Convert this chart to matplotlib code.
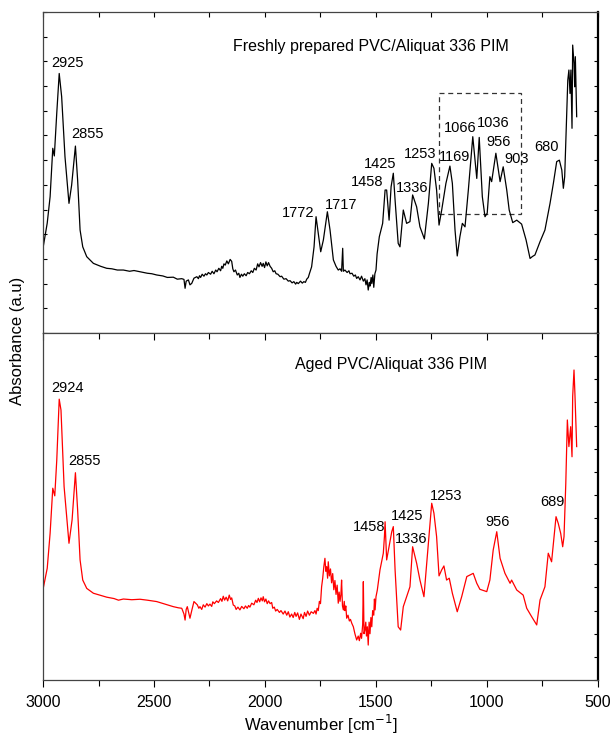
import matplotlib
matplotlib.use("Agg")
import matplotlib.pyplot as plt
from matplotlib.ticker import MultipleLocator, NullFormatter
from matplotlib.patches import Rectangle

plt.rcParams['font.family'] = ['Liberation Sans', 'DejaVu Sans']

# FTIR spectra (wavenumber in cm-1, absorbance in a.u.)
fresh_wn = [2999, 2981, 2968, 2956, 2949, 2938, 2927, 2916, 2901, 2883, 2871, 2854, 2844, 2833,
            2821, 2803, 2773, 2740, 2713, 2690, 2665, 2638, 2610, 2590, 2563, 2530, 2510, 2488,
            2460, 2440, 2413, 2395, 2375, 2365, 2360, 2355, 2345, 2338, 2330, 2320, 2307, 2300,
            2295, 2290, 2283, 2275, 2268, 2262, 2255, 2245, 2238, 2230, 2222, 2216, 2208, 2200,
            2195, 2190, 2185, 2179, 2172, 2165, 2157, 2150, 2145, 2140, 2133, 2125, 2118, 2113,
            2106, 2100, 2093, 2085, 2078, 2070, 2062, 2055, 2048, 2040, 2033, 2027, 2020, 2013,
            2008, 2002, 1996, 1990, 1984, 1977, 1970, 1963, 1956, 1950, 1942, 1932, 1925, 1915,
            1905, 1895, 1887, 1878, 1870, 1862, 1857, 1850, 1840, 1832, 1825, 1818, 1812, 1805,
            1800, 1790, 1779, 1770, 1760, 1749, 1737, 1719, 1707, 1692, 1680, 1670, 1662, 1655,
            1650, 1647, 1640, 1630, 1622, 1617, 1608, 1600, 1593, 1587, 1580, 1572, 1565, 1557,
            1550, 1545, 1540, 1535, 1530, 1527, 1522, 1519, 1514, 1510, 1505, 1500, 1495, 1485,
            1470, 1459, 1452, 1441, 1432, 1422, 1414, 1400, 1392, 1377, 1362, 1347, 1335, 1317,
            1302, 1282, 1264, 1249, 1239, 1227, 1216, 1204, 1185, 1167, 1156, 1144, 1134, 1122,
            1111, 1099, 1084, 1064, 1046, 1035, 1021, 1009, 999, 987, 979, 960, 941, 927,
            911, 900, 884, 866, 844, 824, 806, 795, 784, 761, 739, 716, 701, 686,
            674, 663, 656, 650, 641, 636, 631, 626, 622, 617, 614, 608, 605, 602, 596]
fresh_abs = [3.49, 4.45, 5.52, 7.48, 7.17, 8.91, 10.51, 9.57, 7.14, 5.25, 5.99, 7.57, 6.19, 4.17,
             3.49, 3.09, 2.82, 2.70, 2.62, 2.60, 2.55, 2.55, 2.50, 2.53, 2.48, 2.42, 2.40, 2.35,
             2.31, 2.25, 2.26, 2.18, 2.20, 2.17, 1.81, 2.10, 2.15, 1.95, 2.01, 2.22, 2.28, 2.20,
             2.32, 2.25, 2.38, 2.30, 2.40, 2.35, 2.45, 2.38, 2.50, 2.40, 2.55, 2.48, 2.62, 2.52,
             2.70, 2.62, 2.80, 2.75, 2.92, 2.80, 2.98, 2.90, 2.60, 2.48, 2.55, 2.35, 2.42, 2.25,
             2.38, 2.30, 2.40, 2.32, 2.45, 2.40, 2.52, 2.45, 2.62, 2.55, 2.80, 2.68, 2.85, 2.70,
             2.82, 2.65, 2.88, 2.72, 2.85, 2.70, 2.62, 2.48, 2.52, 2.40, 2.38, 2.28, 2.30, 2.18,
             2.20, 2.10, 2.12, 2.03, 2.08, 1.98, 2.05, 2.00, 2.10, 2.02, 2.08, 2.05, 2.18, 2.25,
             2.40, 2.68, 3.49, 4.71, 4.04, 3.29, 3.77, 4.91, 4.17, 2.96, 2.70, 2.55, 2.60, 2.50,
             3.43, 2.50, 2.55, 2.45, 2.52, 2.40, 2.42, 2.30, 2.35, 2.21, 2.28, 2.15, 2.30, 2.10,
             2.20, 1.95, 2.15, 1.74, 2.05, 1.90, 2.25, 2.00, 2.35, 1.85, 2.40, 2.55, 3.20, 3.90,
             4.44, 5.79, 5.79, 4.57, 5.92, 6.47, 5.38, 3.63, 3.49, 4.98, 4.44, 4.51, 5.59, 5.11,
             4.30, 3.81, 5.25, 6.87, 6.67, 5.79, 4.37, 4.98, 6.06, 6.76, 6.06, 4.17, 3.12, 3.90,
             4.44, 4.30, 5.79, 7.95, 6.26, 7.92, 5.52, 4.71, 4.85, 6.33, 6.13, 7.28, 6.13, 6.73,
             5.79, 4.98, 4.47, 4.57, 4.41, 3.77, 3.02, 3.10, 3.16, 3.70, 4.17, 5.25, 6.06, 6.94,
             7.00, 6.60, 5.86, 6.33, 8.76, 10.24, 10.65, 9.70, 10.65, 8.29, 11.66, 10.92, 9.97, 11.19, 8.76]

aged_wn = [2999, 2981, 2968, 2956, 2947, 2938, 2927, 2919, 2905, 2883, 2869, 2854, 2844, 2833,
           2821, 2803, 2773, 2713, 2680, 2660, 2638, 2600, 2563, 2530, 2510, 2488, 2450, 2413,
           2390, 2375, 2365, 2360, 2355, 2350, 2338, 2330, 2320, 2305, 2298, 2293, 2285, 2278,
           2270, 2262, 2255, 2248, 2240, 2235, 2228, 2218, 2210, 2200, 2194, 2188, 2182, 2175,
           2168, 2161, 2155, 2150, 2143, 2136, 2130, 2122, 2113, 2105, 2095, 2088, 2080, 2074,
           2068, 2060, 2050, 2042, 2036, 2030, 2024, 2018, 2012, 2008, 2002, 1996, 1990, 1984,
           1977, 1970, 1965, 1958, 1952, 1945, 1935, 1928, 1918, 1910, 1902, 1895, 1888, 1880,
           1873, 1866, 1860, 1853, 1845, 1838, 1828, 1822, 1815, 1808, 1800, 1792, 1782, 1775,
           1770, 1765, 1760, 1755, 1750, 1745, 1740, 1735, 1730, 1726, 1722, 1718, 1715, 1710,
           1705, 1700, 1695, 1690, 1685, 1680, 1675, 1670, 1666, 1662, 1658, 1655, 1651, 1647,
           1643, 1640, 1636, 1632, 1626, 1620, 1615, 1609, 1602, 1595, 1587, 1580, 1575, 1569,
           1565, 1560, 1557, 1554, 1550, 1546, 1543, 1539, 1535, 1531, 1527, 1523, 1519, 1515,
           1510, 1507, 1504, 1500, 1494, 1482, 1467, 1462, 1459, 1452, 1440, 1429, 1422, 1414,
           1400, 1389, 1377, 1362, 1347, 1335, 1317, 1302, 1284, 1264, 1249, 1239, 1227, 1216,
           1204, 1194, 1182, 1170, 1156, 1134, 1114, 1091, 1062, 1046, 1032, 1001, 987, 972,
           956, 941, 919, 896, 889, 866, 837, 821, 799, 776, 761, 739, 724, 709,
           689, 679, 668, 659, 653, 645, 638, 631, 623, 617, 614, 608, 604, 596]
aged_abs = [3.96, 4.83, 6.34, 8.29, 7.96, 9.51, 12.14, 11.67, 8.36, 5.91, 6.92, 8.96, 7.35, 5.19,
            4.32, 3.96, 3.75, 3.58, 3.52, 3.45, 3.50, 3.47, 3.49, 3.45, 3.42, 3.39, 3.28, 3.17,
            3.12, 3.10, 2.85, 2.59, 3.05, 3.17, 2.67, 3.00, 3.39, 3.25, 3.10, 3.17, 3.05, 3.25,
            3.15, 3.30, 3.20, 3.28, 3.18, 3.38, 3.30, 3.42, 3.35, 3.52, 3.40, 3.62, 3.45, 3.58,
            3.42, 3.67, 3.48, 3.55, 3.24, 3.20, 3.05, 3.15, 3.03, 3.18, 3.08, 3.20, 3.10, 3.22,
            3.15, 3.32, 3.25, 3.45, 3.35, 3.53, 3.38, 3.55, 3.42, 3.60, 3.38, 3.50, 3.30, 3.42,
            3.30, 3.35, 3.10, 3.15, 2.98, 3.05, 2.92, 3.00, 2.85, 2.98, 2.80, 2.95, 2.72, 2.85,
            2.70, 2.92, 2.75, 2.90, 2.62, 2.85, 2.65, 2.92, 2.75, 2.98, 2.80, 2.95, 2.88, 3.00,
            2.85, 3.10, 3.00, 3.40, 3.30, 4.03, 4.40, 4.90, 5.26, 4.70, 4.90, 4.40, 5.11, 4.50,
            4.80, 4.20, 4.60, 3.90, 4.30, 3.70, 4.10, 3.32, 3.80, 3.40, 3.70, 4.32, 3.20, 3.03,
            3.40, 3.00, 3.20, 2.67, 2.80, 2.55, 2.62, 2.45, 2.30, 2.00, 1.73, 1.90, 1.70, 2.02,
            1.80, 2.40, 4.25, 2.00, 2.16, 2.50, 1.90, 2.30, 1.51, 2.50, 2.00, 2.70, 2.30, 3.00,
            2.80, 3.50, 3.03, 3.60, 3.89, 4.76, 5.48, 6.20, 6.84, 5.19, 5.84, 6.41, 6.63, 4.76,
            2.30, 2.16, 3.17, 3.60, 4.03, 5.76, 5.05, 4.32, 3.60, 5.91, 7.64, 7.21, 6.20, 4.50,
            4.76, 4.93, 4.32, 4.40, 3.75, 2.95, 3.60, 4.47, 4.61, 4.18, 3.92, 3.82, 4.32, 5.62,
            6.41, 5.26, 4.61, 4.18, 4.32, 3.89, 3.67, 3.10, 2.74, 2.38, 3.46, 4.03, 5.48, 5.11,
            7.06, 6.77, 6.34, 5.76, 6.20, 8.50, 11.24, 10.09, 10.95, 9.65, 12.25, 13.40, 12.40, 10.09]

# peak annotations: (label, wavenumber, absorbance)
fresh_peaks = [("2925", 2889, 10.92), ("2855", 2799, 8.04), ("1772", 1850, 4.85),
               ("1717", 1658, 5.18), ("1458", 1539, 6.10), ("1425", 1482, 6.84),
               ("1336", 1336, 5.86), ("1253", 1302, 7.25), ("1169", 1144, 7.14),
               ("1066", 1122, 8.29), ("1036", 972, 8.49), ("956", 946, 7.75),
               ("903", 866, 7.04), ("680", 731, 7.54)]
aged_peaks = [("2924", 2889, 12.64), ("2855", 2814, 9.47), ("1458", 1530, 6.63),
              ("1425", 1359, 7.09), ("1336", 1342, 6.08), ("1253", 1186, 7.97),
              ("956", 954, 6.84), ("689", 706, 7.71)]

box_wn = [1215, 847]
box_abs = [4.81, 9.73]

fig = plt.figure(figsize=(6.1, 7.4), dpi=100)
ax1 = fig.add_axes([0.0705, 0.55, 0.9098, 0.4338])
ax2 = fig.add_axes([0.0705, 0.0811, 0.9098, 0.4689], sharex=ax1)

ax1.plot(fresh_wn, fresh_abs, color='black', lw=0.9)
ax2.plot(aged_wn, aged_abs, color='#ff0000', lw=0.9)

for lab, x, y in fresh_peaks:
    ax1.text(x, y, lab, ha='center', va='center', fontsize=10.5)
for lab, x, y in aged_peaks:
    ax2.text(x, y, lab, ha='center', va='center', fontsize=10.5)

ax1.text(1523, 11.59, "Freshly prepared PVC/Aliquat 336 PIM", ha='center', va='center', fontsize=11.5)
ax2.text(1431, 13.65, "Aged PVC/Aliquat 336 PIM", ha='center', va='center', fontsize=11.5)

ax1.add_patch(Rectangle((box_wn[0], box_abs[0]), box_wn[1] - box_wn[0], box_abs[1] - box_abs[0],
                        fill=False, ls=(0, (4, 3)), lw=0.9, ec='#333333'))

ax1.set_xlim(3000, 500)
ax1.set_ylim(0, 13)
ax2.set_ylim(0, 15)

for ax in (ax1, ax2):
    ax.xaxis.set_major_locator(MultipleLocator(500))
    ax.xaxis.set_minor_locator(MultipleLocator(250))
    ax.yaxis.set_major_locator(MultipleLocator(1))
    ax.yaxis.set_major_formatter(NullFormatter())
    for side in ('left', 'bottom', 'top'):
        ax.spines[side].set_color('#444444')
        ax.spines[side].set_linewidth(0.9)
    ax.spines['right'].set_color('black')
    ax.spines['right'].set_linewidth(1.6)

ax1.tick_params(axis='x', which='both', top=True, bottom=False, labelbottom=False,
                direction='in', length=3.5, width=0.8)
ax1.tick_params(axis='y', which='both', left=True, right=True, direction='in', length=3, width=0.8)

ax2.tick_params(axis='x', which='major', top=True, bottom=True, direction='out', length=5, width=0.8,
                labelsize=11.5, pad=6)
ax2.tick_params(axis='x', which='minor', top=True, bottom=True, direction='out', length=4, width=0.8)
ax2.tick_params(axis='y', which='both', left=False, right=True, direction='in', length=3, width=0.8)
for t in ax2.xaxis.get_major_ticks() + ax2.xaxis.get_minor_ticks():
    t.tick2line.set_marker(matplotlib.lines.TICKDOWN)

ax2.set_xlabel("Wavenumber [cm$^{-1}$]", fontsize=12, labelpad=2)
fig.text(0.028, 0.54, "Absorbance (a.u)", rotation=90, ha='center', va='center', fontsize=12)

fig.savefig("out.png", dpi=100)
